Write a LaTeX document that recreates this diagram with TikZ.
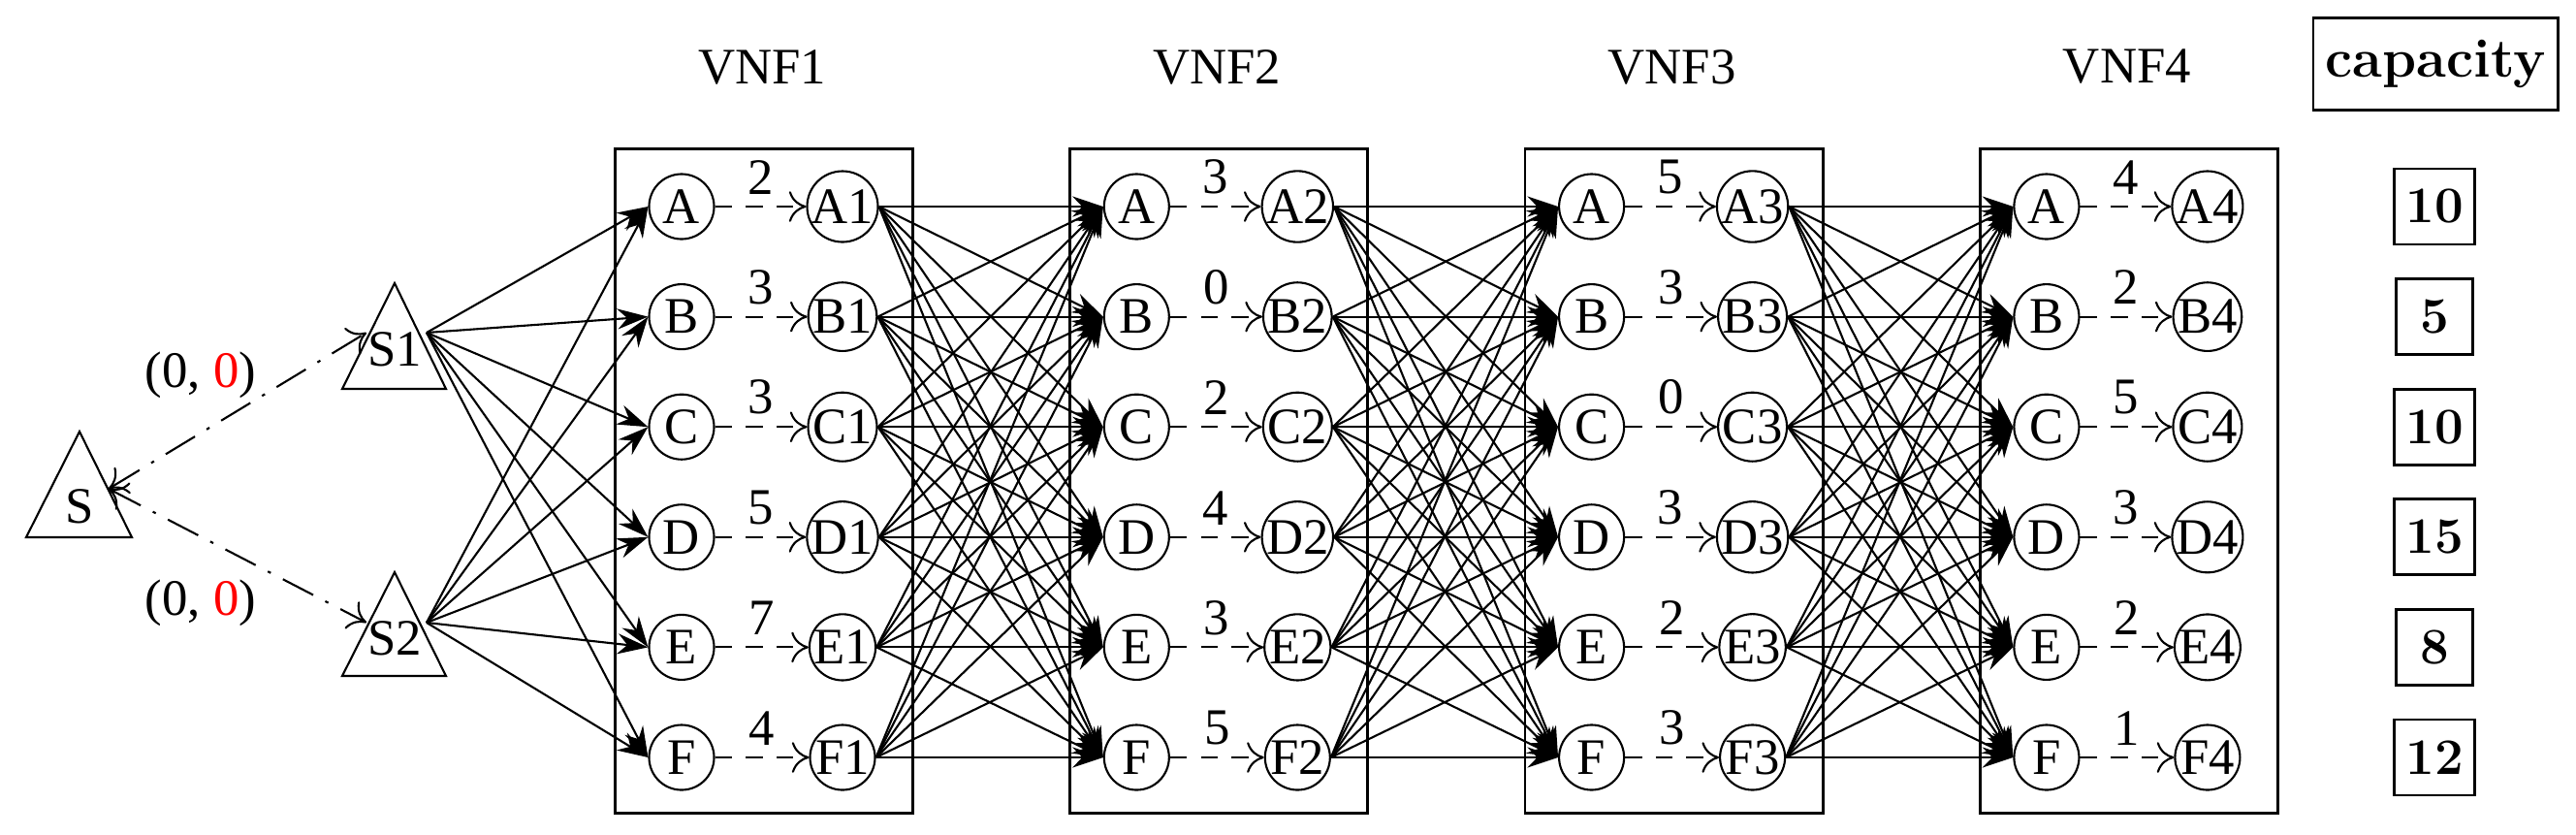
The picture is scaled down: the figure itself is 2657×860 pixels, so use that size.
\documentclass[tikz,border=0pt]{standalone}
\usepackage{fontspec}
\newfontfamily\tms{Liberation Serif}
\usetikzlibrary{arrows.meta}
\begin{document}
\begin{tikzpicture}[x=0.01cm,y=-0.01cm,semithick,
    vn/.style={circle, draw, minimum size=0.67cm, inner sep=0pt, font=\tms\fontsize{15}{15}\selectfont},
    tri/.style={draw, semithick},
    box/.style={draw, thick, minimum width=3.07cm, minimum height=6.85cm},
    capbox/.style={draw, thick, minimum width=0.79cm, minimum height=0.78cm, font=\bfseries\fontsize{15}{15}\selectfont},
    link/.style={-{Stealth[length=9pt,width=6pt]}},
    dashlink/.style={dash pattern=on 5pt off 4pt, -{To[length=5pt,width=9pt]}},
    lbl/.style={font=\tms\fontsize{15}{15}\selectfont}
  ]
\useasboundingbox (0,0) rectangle (2657,860);
% sources
\draw[tri] (82,445) -- (136,554) -- (27,554) -- cycle;
\node[lbl] (S) at (82,522) {S};
\draw[tri] (407,292) -- (460,401) -- (353,401) -- cycle;
\node[lbl] (S1) at (407,360) {S1};
\draw[tri] (407,590) -- (460,697) -- (353,697) -- cycle;
\node[lbl] (S2) at (407,658) {S2};
\coordinate (s0) at (112,504);
\coordinate (s1in) at (378,343);
\coordinate (s2in) at (378,642);
\coordinate (s1out) at (440,343);
\coordinate (s2out) at (440,642);
\draw[dash pattern=on 10pt off 4pt on 1pt off 4pt, {To[length=5pt,width=9pt]}-{To[length=5pt,width=9pt]}] (s0) -- (s1in);
\draw[dash pattern=on 10pt off 4pt on 1pt off 4pt, {To[length=5pt,width=9pt]}-{To[length=5pt,width=9pt]}] (s0) -- (s2in);
\node[lbl] (w1) at (207,387) {(0, \textcolor{red}{0})};
\node[lbl] (w2) at (207,622) {(0, \textcolor{red}{0})};
% VNF boxes
\foreach \k/\w in {1/{2,3,3,5,7,4}, 2/{3,0,2,4,3,5}, 3/{5,3,0,3,2,3}, 4/{4,2,5,3,2,1}} {
  \pgfmathsetmacro{\bx}{633+469.3*(\k-1)}
  \node[box, anchor=north west] (box\k) at (\bx,152) {};
  \node[lbl] (t\k) at (\bx+153,69) {VNF\k};
  \foreach \r [count=\i from 0] in {A,B,C,D,E,F} {
    \pgfmathsetmacro{\ry}{213+113.6*\i}
    \node[vn] (\r\k in) at (\bx+70,\ry) {\r};
    \node[vn] (\r\k out) at (\bx+236,\ry) {\r\k};
  }
  \foreach \r [count=\i from 0] in {A,B,C,D,E,F} {
    \pgfmathtruncatemacro{\ww}{{\w}[\i]}
    \draw[dashlink] (\r\k in) -- node[lbl, above=0pt] {\ww} (\r\k out);
  }
}
% source links
\foreach \r in {A,B,C,D,E,F} {
  \draw[link] (s1out) -- (\r1in.west);
  \draw[link] (s2out) -- (\r1in.west);
}
% full meshes
\foreach \k/\n in {1/2,2/3,3/4}
  \foreach \a in {A,B,C,D,E,F}
    \foreach \b in {A,B,C,D,E,F}
      \draw[link] (\a\k out.east) -- (\b\n in.west);
% capacity
\node[draw, thick, minimum width=2.52cm, minimum height=0.95cm, font=\bfseries\fontsize{16}{16}\selectfont] (capt) at (2512,66) {capacity};
\foreach \c [count=\i from 0] in {10,5,10,15,8,12} {
  \node[capbox] (cap\i) at (2511,213+113.6*\i) {\c};
}
\end{tikzpicture}
\end{document}
